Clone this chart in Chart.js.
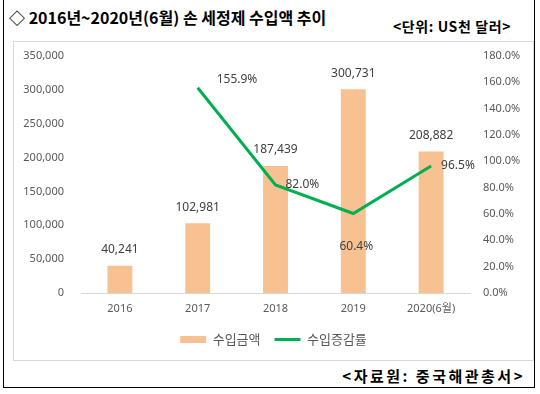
<!DOCTYPE html>
<html>
<head>
<meta charset="utf-8">
<script src="https://cdn.jsdelivr.net/npm/chart.js@4.4.1/dist/chart.umd.min.js"></script>
<style>
  html, body { margin: 0; padding: 0; background: #fff; }
  body { width: 540px; height: 394px; position: relative; overflow: hidden; font-family: 'Noto Sans CJK KR', 'Noto Sans', sans-serif; }
  #outer { position: absolute; left: 3px; top: -3px; width: 532px; height: 391px; border: 1.5px solid #000; box-sizing: border-box; }
  #inner { position: absolute; left: 13px; top: 41px; width: 521px; height: 320px; border: 1px solid #d9d9d9; box-sizing: border-box; }
  #title { position: absolute; left: 9px; top: 5px; font-size: 16px; font-weight: bold; color: #000; white-space: nowrap; }
  #unit { position: absolute; right: 29px; top: 16px; font-size: 14px; letter-spacing: 0.6px; font-weight: bold; color: #000; white-space: nowrap; }
  #source { position: absolute; right: 15px; top: 365px; font-size: 15px; letter-spacing: 2.5px; font-weight: bold; color: #000; white-space: nowrap; }
  #wrap { position: absolute; left: 14px; top: 42px; width: 519px; height: 318px; }
</style>
</head>
<body>
<div id="outer"></div>
<div id="title">◇ 2016년~2020년(6월) 손 세정제 수입액 추이</div>
<div id="unit">&lt;단위: US천 달러&gt;</div>
<div id="inner"></div>
<div id="wrap"><canvas id="c" width="519" height="318"></canvas></div>
<div id="source">&lt;자료원: 중국해관총서&gt;</div>
<script>
const categories = ['2016', '2017', '2018', '2019', '2020(6월)'];
const importAmount = [40241, 102981, 187439, 300731, 208882];
const growthRate = [null, 155.9, 82.0, 60.4, 96.5];
const seriesNames = ['수입금액', '수입증감률'];
const leftTicksMax = 350000;
const rightTicksMax = 180;

const lineLabelPlacement = ['none', 'upright', 'right', 'below', 'right'];

const labelPlugin = {
  id: 'dataLabels',
  afterDatasetsDraw(chart) {
    const ctx = chart.ctx;
    ctx.save();
    ctx.font = '12px "Noto Sans", "Noto Sans CJK KR", sans-serif';
    ctx.fillStyle = '#404040';
    ctx.textBaseline = 'middle';
    const barMeta = chart.getDatasetMeta(0);
    barMeta.data.forEach((el, i) => {
      ctx.textAlign = 'center';
      ctx.fillText(importAmount[i].toLocaleString('en-US'), el.x, el.y - 16);
    });
    const lineMeta = chart.getDatasetMeta(1);
    lineMeta.data.forEach((el, i) => {
      const v = growthRate[i];
      if (v === null) return;
      const txt = v.toFixed(1) + '%';
      const p = lineLabelPlacement[i];
      if (p === 'upright') { ctx.textAlign = 'left'; ctx.fillText(txt, el.x + 19, el.y - 8); }
      else if (p === 'right') { ctx.textAlign = 'left'; ctx.fillText(txt, el.x + 10, el.y); }
      else if (p === 'below') { ctx.textAlign = 'center'; ctx.fillText(txt, el.x + 3, el.y + 33); }
    });
    ctx.restore();
  }
};

const tickFont = { family: '"Noto Sans", "Noto Sans CJK KR", sans-serif', size: 11 };

new Chart(document.getElementById('c'), {
  type: 'bar',
  data: {
    labels: categories,
    datasets: [
      {
        type: 'bar', label: seriesNames[0], data: importAmount,
        backgroundColor: '#F8C191', yAxisID: 'y', order: 2,
        barPercentage: 0.32, categoryPercentage: 1.0
      },
      {
        type: 'line', label: seriesNames[1], data: growthRate,
        borderColor: '#00B050', backgroundColor: '#00B050', borderWidth: 3,
        pointRadius: 0, pointHoverRadius: 0, tension: 0, yAxisID: 'y1', order: 1,
        spanGaps: false
      }
    ]
  },
  options: {
    responsive: false,
    animation: false,
    devicePixelRatio: 1,
    layout: { padding: { top: 14, bottom: 4, left: 0, right: 0 } },
    plugins: {
      tooltip: { enabled: false },
      legend: {
        position: 'bottom',
        labels: {
          usePointStyle: true,
          pointStyleWidth: 26,
          boxHeight: 7,
          padding: 14,
          color: '#595959',
          font: { family: '"Noto Sans CJK KR", sans-serif', size: 13 },
          sort: (a, b) => a.datasetIndex - b.datasetIndex,
          generateLabels(chart) {
            return chart.data.datasets.map((ds, i) => ({
              text: ds.label,
              fillStyle: ds.backgroundColor,
              strokeStyle: ds.type === 'line' ? ds.borderColor : ds.backgroundColor,
              lineWidth: ds.type === 'line' ? 3 : 0,
              pointStyle: ds.type === 'line' ? 'line' : 'rect',
              fontColor: '#595959',
              hidden: false,
              datasetIndex: i
            }));
          }
        }
      }
    },
    scales: {
      x: {
        grid: { display: false, drawTicks: false },
        border: { display: true, color: '#d9d9d9', width: 1 },
        ticks: { color: '#595959', font: tickFont, padding: 9 },
        afterFit(s) { s.height = 26; }
      },
      y: {
        position: 'left', min: 0, max: leftTicksMax,
        grid: { display: false, drawTicks: false },
        border: { display: false },
        ticks: { stepSize: 50000, color: '#595959', font: tickFont, padding: 17,
                 callback: v => v.toLocaleString('en-US') },
        afterFit(s) { s.width = 67; s.paddingTop = 0; s.paddingBottom = 0; }
      },
      y1: {
        position: 'right', min: 0, max: rightTicksMax,
        grid: { display: false, drawTicks: false },
        border: { display: false },
        ticks: { stepSize: 20, color: '#595959', font: tickFont, padding: 13,
                 callback: v => v.toFixed(1) + '%' },
        afterFit(s) { s.width = 63; s.paddingTop = 0; s.paddingBottom = 0; }
      }
    }
  },
  plugins: [labelPlugin]
});
</script>
</body>
</html>
